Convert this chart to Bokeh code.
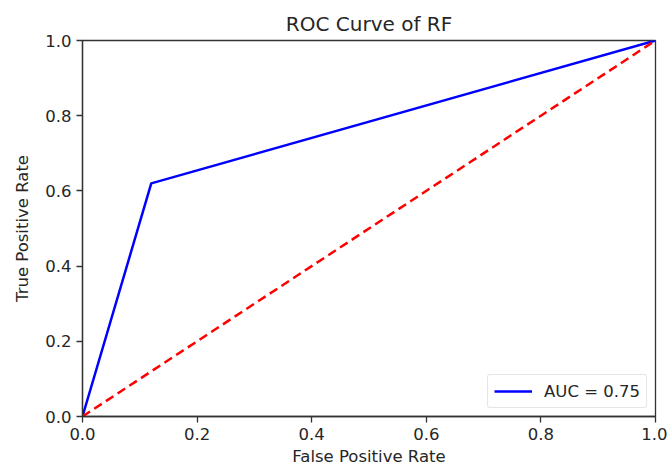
from bokeh.plotting import figure
from bokeh.models import Range1d, NumeralTickFormatter, Legend, LegendItem, FixedTicker
from bokeh.embed import file_html
from bokeh.resources import INLINE

# Data
fpr = [0.0, 0.12, 1.0]
tpr = [0.0, 0.62, 1.0]
chance_x = [0.0, 1.0]
chance_y = [0.0, 1.0]
auc_label = "AUC = 0.75"
ticks = [0.0, 0.2, 0.4, 0.6, 0.8, 1.0]

FONT = "DejaVu Sans"
TXT = "#262626"

p = figure(width=667, height=470, output_backend="svg", toolbar_location=None,
           x_range=Range1d(0, 1), y_range=Range1d(0, 1),
           frame_width=573, frame_height=376,
           min_border_left=82, min_border_right=12, min_border_top=40, min_border_bottom=54,
           title="ROC Curve of RF")

p.title.align = "center"
p.title.text_font = FONT
p.title.text_font_size = "20px"
p.title.text_font_style = "normal"
p.title.text_color = TXT
p.title.standoff = 9

blue = p.line(fpr, tpr, line_color="blue", line_width=2.5)
p.line(chance_x, chance_y, line_color="red", line_width=2.5, line_dash="9 5")

for ax in (p.xaxis[0], p.yaxis[0]):
    ax.ticker = FixedTicker(ticks=ticks)
    ax.formatter = NumeralTickFormatter(format="0.0")
    ax.major_label_text_font = FONT
    ax.major_label_text_font_size = "16.5px"
    ax.major_label_text_color = TXT
    ax.axis_label_text_font = FONT
    ax.axis_label_text_font_size = "16.5px"
    ax.axis_label_text_font_style = "normal"
    ax.axis_label_text_color = TXT
    ax.minor_tick_line_color = None
    ax.major_tick_out = 6
    ax.major_tick_in = 0
    ax.axis_line_color = "#333333"
    ax.axis_line_width = 1.3
    ax.major_tick_line_color = "#333333"
    ax.major_tick_line_width = 1.3
    ax.major_label_standoff = 5

p.xaxis.axis_label = "False Positive Rate"
p.yaxis.axis_label = "True Positive Rate"
p.xaxis.axis_label_standoff = 4
p.yaxis.axis_label_standoff = 10

p.xgrid.grid_line_color = None
p.ygrid.grid_line_color = None
p.outline_line_color = "#333333"
p.outline_line_width = 1.3
p.outline_line_alpha = 1.0

legend = Legend(items=[LegendItem(label=auc_label, renderers=[blue])],
                location="bottom_right")
legend.label_text_font = FONT
legend.label_text_font_size = "16.5px"
legend.label_text_color = TXT
legend.border_line_color = "#cccccc"
legend.border_line_width = 1
legend.border_radius = 3
legend.glyph_width = 38
legend.label_standoff = 12
legend.padding = 6
legend.margin = 8
legend.spacing = 0
p.add_layout(legend)

open("out.html", "w").write(file_html(p, INLINE))
